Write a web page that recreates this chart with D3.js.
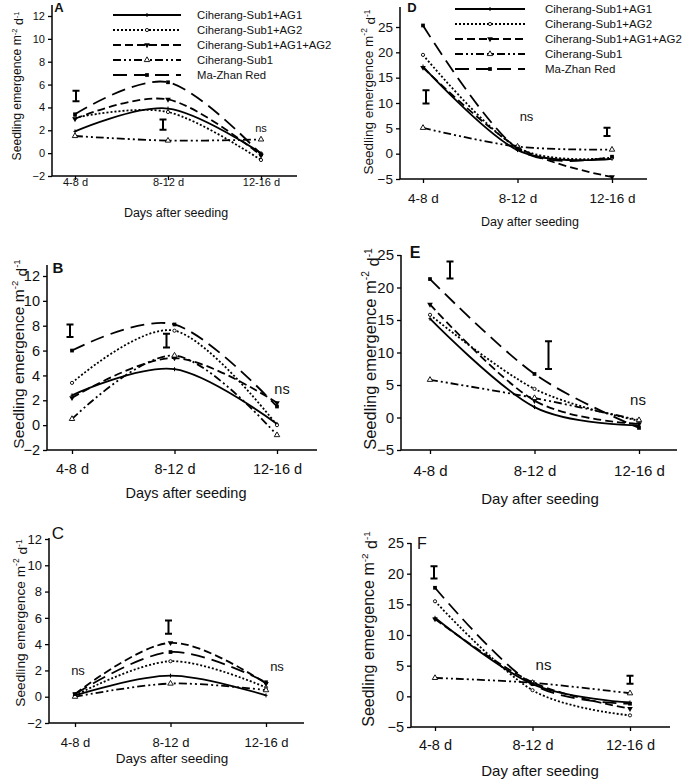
<!DOCTYPE html>
<html><head><meta charset="utf-8">
<script src="https://cdn.jsdelivr.net/npm/d3@7"></script>
<style>
body{margin:0;background:#fff}
svg{display:block}
text{font-family:"Liberation Sans",Arial,sans-serif;fill:#111}
</style>
</head><body><svg id="chart" width="685" height="779"></svg>
<script>
// ---------- data ----------
const categories = ["4-8 d", "8-12 d", "12-16 d"];
const seriesNames = ["Ciherang-Sub1+AG1", "Ciherang-Sub1+AG2", "Ciherang-Sub1+AG1+AG2", "Ciherang-Sub1", "Ma-Zhan Red"];
const yTicksSmall = [-2, 0, 2, 4, 6, 8, 10, 12];
const yTicksLarge = [-5, 0, 5, 10, 15, 20, 25];

// rows follow seriesNames order; columns follow categories
const valuesA = [[1.9, 3.9, 0.0], [3.1, 3.6, -0.6], [3.0, 4.7, -0.2], [1.5, 1.1, 1.2], [3.4, 6.2, -0.1]];
const valuesB = [[2.4, 4.5, 0.1], [3.4, 7.6, 0.0], [2.2, 5.4, 1.8], [0.5, 5.6, -0.8], [6.0, 8.1, 1.5]];
const valuesC = [[0.1, 1.6, 0.1], [0.1, 2.7, 0.7], [0.2, 4.1, 1.0], [0.0, 1.0, 0.5], [0.2, 3.4, 1.1]];
const valuesD = [[17.2, 0.7, -1.0], [19.5, 1.2, -0.8], [17.0, 1.3, -4.6], [5.1, 1.4, 0.8], [25.3, 1.0, -0.6]];
const valuesE = [[15.2, 1.6, -1.2], [15.8, 4.4, -0.5], [17.4, 2.6, -1.0], [5.8, 3.0, -0.4], [21.3, 6.7, -1.6]];
const valuesF = [[12.8, 2.0, -1.0], [15.5, 1.0, -3.1], [12.6, 2.3, -2.0], [3.0, 2.2, 0.5], [17.7, 2.0, -1.2]];

// LSD bars: category, centre value, half length
const errA = [{cat: "4-8 d", y: 5.0, half: 0.45}, {cat: "8-12 d", y: 2.5, half: 0.45}];
const errB = [{cat: "4-8 d", y: 7.6, half: 0.5}, {cat: "8-12 d", y: 6.8, half: 0.55}];
const errC = [{cat: "8-12 d", y: 5.3, half: 0.5}];
const errD = [{cat: "4-8 d", y: 11.2, half: 1.3}, {cat: "12-16 d", y: 4.3, half: 0.8}];
const errE = [{cat: "4-8 d", y: 22.7, half: 1.3}, {cat: "8-12 d", y: 9.6, half: 2.15}];
const errF = [{cat: "4-8 d", y: 20.2, half: 1.0}, {cat: "12-16 d", y: 2.7, half: 0.65}];
// "ns" labels
const nsA = [{cat: "12-16 d", y: 2.2}];
const nsB = [{cat: "12-16 d", y: 2.9}];
const nsC = [{cat: "4-8 d", y: 2.0}, {cat: "12-16 d", y: 2.3}];
const nsD = [{cat: "8-12 d", y: 7.3}];
const nsE = [{cat: "12-16 d", y: 2.8}];
const nsF = [{cat: "8-12 d", y: 5.2}];

// ---------- layout ----------
const panels = [
  {letter: "A", bold: true, values: valuesA, err: errA, ns: nsA, ticks: yTicksSmall, dom: [-2, 12],
   ax: 52, xr: [75, 261], right: 297, yr: [176, 16], top: 5,
   tickFs: 11, yTitleFs: 12.2, xTitleFs: 12.5, letterFs: 13, nsFs: 11,
   xLabY: 182, xTitle: "Days after seeding", xTitleX: 176, xTitleY: 213, yTitleX: 17, yTitleY: 86,
   letterX: 59, letterY: 7, errDx: [1, -5], nsDx: [0],
   legend: {x1: 113, x2: 181, tx: 197, y0: 15, dy: 15, fs: 11.3}},
  {letter: "B", bold: true, values: valuesB, err: errB, ns: nsB, ticks: yTicksSmall, dom: [-2, 12],
   ax: 47, xr: [72, 277], right: 317, yr: [450, 276], top: 265,
   tickFs: 14.5, yTitleFs: 15.5, xTitleFs: 14.5, letterFs: 15, nsFs: 14.5,
   xLabY: 469, xTitle: "Days after seeding", xTitleX: 186, xTitleY: 493, yTitleX: 18, yTitleY: 354,
   letterX: 58, letterY: 267, errDx: [-2, -8], nsDx: [5]},
  {letter: "C", bold: false, values: valuesC, err: errC, ns: nsC, ticks: yTicksSmall, dom: [-2, 12],
   ax: 49, xr: [75, 266], right: 304, yr: [723, 539], top: 538,
   tickFs: 13, yTitleFs: 13.7, xTitleFs: 13.5, letterFs: 17, nsFs: 13,
   xLabY: 742, xTitle: "Days after seeding", xTitleX: 172, xTitleY: 758, yTitleX: 20, yTitleY: 623,
   letterX: 58, letterY: 533, errDx: [-2], nsDx: [3, 11]},
  {letter: "D", bold: true, values: valuesD, err: errD, ns: nsD, ticks: yTicksLarge, dom: [-5, 25],
   ax: 400, xr: [423, 612], right: 647, yr: [179, 27], top: 7,
   tickFs: 13.5, yTitleFs: 13.5, xTitleFs: 12.5, letterFs: 13, nsFs: 13,
   xLabY: 198, xTitle: "Day after seeding", xTitleX: 530, xTitleY: 222, yTitleX: 368, yTitleY: 92,
   letterX: 412, letterY: 7, errDx: [3, -5], nsDx: [9],
   legend: {x1: 455, x2: 525, tx: 545, y0: 9, dy: 15, fs: 11.5}},
  {letter: "E", bold: true, values: valuesE, err: errE, ns: nsE, ticks: yTicksLarge, dom: [-5, 25],
   ax: 401, xr: [430, 639], right: 677, yr: [450, 255], top: 255,
   tickFs: 15, yTitleFs: 16.5, xTitleFs: 15, letterFs: 16, nsFs: 15,
   xLabY: 470, xTitle: "Day after seeding", xTitleX: 540, xTitleY: 498, yTitleX: 370, yTitleY: 349,
   letterX: 415, letterY: 252, errDx: [20, 14], nsDx: [-1]},
  {letter: "F", bold: false, values: valuesF, err: errF, ns: nsF, ticks: yTicksLarge, dom: [-5, 25],
   ax: 411, xr: [435, 630], right: 670, yr: [727, 543], top: 543,
   tickFs: 14.5, yTitleFs: 16, xTitleFs: 15, letterFs: 16, nsFs: 15,
   xLabY: 745, xTitle: "Day after seeding", xTitleX: 540, xTitleY: 770, yTitleX: 368, yTitleY: 629,
   letterX: 422, letterY: 543, errDx: [-1, 0], nsDx: [11]}
];

const dashes = [null, "2,2", "8,4", "8,3,2,3,2,3", "14,7"];
const svg = d3.select("#chart");

function drawMarker(g, i, x, y) {
  const s = g.append("g").attr("transform", `translate(${x},${y})`);
  if (i === 0) {
    s.append("path").attr("d", "M0,-2V2M-1.5,0H1.5").attr("stroke", "#000").attr("stroke-width", 1);
  } else if (i === 1) {
    s.append("path").attr("d", d3.symbol(d3.symbolCircle, 8)()).attr("fill", "#fff").attr("stroke", "#000").attr("stroke-width", 0.9);
  } else if (i === 2) {
    s.append("path").attr("d", d3.symbol(d3.symbolTriangle, 14)()).attr("transform", "rotate(180)").attr("fill", "#000");
  } else if (i === 3) {
    s.append("path").attr("d", d3.symbol(d3.symbolTriangle, 13)()).attr("fill", "#fff").attr("stroke", "#000").attr("stroke-width", 0.9);
  } else {
    s.append("path").attr("d", d3.symbol(d3.symbolSquare, 14)()).attr("fill", "#000");
  }
}

function yTitle(g, p) {
  const t = g.append("text")
    .attr("transform", `translate(${p.yTitleX},${p.yTitleY}) rotate(-90)`)
    .attr("text-anchor", "middle").attr("dominant-baseline", "central")
    .style("font-size", p.yTitleFs + "px");
  t.append("tspan").text("Seedling emergence m");
  t.append("tspan").attr("dy", "-0.45em").style("font-size", "0.62em").text("-2");
  t.append("tspan").attr("dy", "0.45em").text(" d");
  t.append("tspan").attr("dy", "-0.45em").style("font-size", "0.62em").text("-1");
}

panels.forEach(p => {
  const g = svg.append("g");
  const x = d3.scalePoint().domain(categories).range(p.xr);
  const y = d3.scaleLinear().domain(p.dom).range(p.yr);

  // y axis
  const ya = g.append("g").attr("transform", `translate(${p.ax},0)`)
    .call(d3.axisLeft(y).tickValues(p.ticks).tickSize(4).tickSizeOuter(0).tickPadding(3));
  ya.select(".domain").remove();
  ya.selectAll("line").attr("stroke", "#000").attr("stroke-width", 1.3);
  ya.selectAll("text").style("font-size", p.tickFs + "px").style("font-family", '"Liberation Sans",Arial,sans-serif').attr("fill", "#111");
  g.append("line").attr("x1", p.ax).attr("x2", p.ax).attr("y1", p.top).attr("y2", p.yr[0])
    .attr("stroke", "#000").attr("stroke-width", 1.5);

  // x axis
  const xa = g.append("g").attr("transform", `translate(0,${p.yr[0]})`)
    .call(d3.axisBottom(x).tickSize(4).tickSizeOuter(0).tickPadding(2));
  xa.select(".domain").remove();
  xa.selectAll("line").attr("stroke", "#000").attr("stroke-width", 1.3);
  xa.selectAll("text").attr("y", null).attr("dy", null)
    .attr("transform", `translate(0,${p.xLabY - p.yr[0]})`)
    .attr("dominant-baseline", "central")
    .style("font-size", p.tickFs + "px").style("font-family", '"Liberation Sans",Arial,sans-serif').attr("fill", "#111");
  g.append("line").attr("x1", p.ax).attr("x2", p.right).attr("y1", p.yr[0]).attr("y2", p.yr[0])
    .attr("stroke", "#000").attr("stroke-width", 1.5);

  // titles
  g.append("text").attr("x", p.xTitleX).attr("y", p.xTitleY).attr("text-anchor", "middle")
    .attr("dominant-baseline", "central").style("font-size", p.xTitleFs + "px").text(p.xTitle);
  yTitle(g, p);
  g.append("text").attr("x", p.letterX).attr("y", p.letterY).attr("text-anchor", "middle")
    .attr("dominant-baseline", "central").style("font-size", p.letterFs + "px")
    .style("font-weight", p.bold ? "bold" : "normal").text(p.letter);

  // series
  const line = d3.line().x((d, j) => x(categories[j])).y(d => y(d)).curve(d3.curveCardinal.tension(0));
  p.values.forEach((vals, i) => {
    g.append("path").attr("d", line(vals)).attr("fill", "none").attr("stroke", "#000")
      .attr("stroke-width", 1.8).attr("stroke-dasharray", dashes[i]);
    vals.forEach((v, j) => drawMarker(g, i, x(categories[j]), y(v)));
  });

  // LSD bars
  p.err.forEach((e, k) => {
    const cx = x(e.cat) + p.errDx[k];
    const y1 = y(e.y + e.half), y2 = y(e.y - e.half);
    const w = 3.5;
    g.append("path").attr("d", `M${cx},${y1}V${y2}M${cx - w},${y1}H${cx + w}M${cx - w},${y2}H${cx + w}`)
      .attr("stroke", "#000").attr("stroke-width", 2).attr("fill", "none");
  });
  // ns labels
  p.ns.forEach((n, k) => {
    g.append("text").attr("x", x(n.cat) + p.nsDx[k]).attr("y", y(n.y)).attr("text-anchor", "middle")
      .attr("dominant-baseline", "central").style("font-size", p.nsFs + "px").text("ns");
  });

  // legend
  if (p.legend) {
    const L = p.legend;
    seriesNames.forEach((name, i) => {
      const ly = L.y0 + i * L.dy;
      g.append("line").attr("x1", L.x1).attr("x2", L.x2).attr("y1", ly).attr("y2", ly)
        .attr("stroke", "#000").attr("stroke-width", 1.8).attr("stroke-dasharray", dashes[i]);
      drawMarker(g, i, (L.x1 + L.x2) / 2, ly);
      g.append("text").attr("x", L.tx).attr("y", ly).attr("dominant-baseline", "central")
        .style("font-size", L.fs + "px").text(name);
    });
  }
});
</script>
</body></html>
